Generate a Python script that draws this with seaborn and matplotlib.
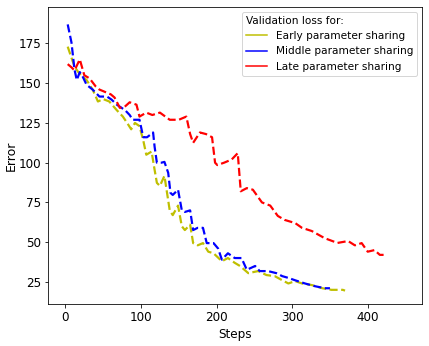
import pandas as pd
import matplotlib
matplotlib.use('Agg')
from matplotlib import pyplot as plt
from matplotlib.lines import Line2D
import seaborn as sns

# validation loss curves
early_steps = [3, 8, 12, 17, 21, 28, 36, 43, 50, 58, 68, 76, 83, 87, 92, 98, 103, 107, 114, 118,
               121, 125, 131, 138, 142, 149, 154, 158, 165, 169, 175, 182, 189, 196, 207, 215,
               224, 231, 242, 255, 266, 277, 287, 295, 304, 313, 326, 340, 352, 367, 370]
early_loss = [173, 166, 160.5, 157, 155, 152, 146, 138.5, 140, 138.5, 133, 129, 124, 121, 125, 123,
              114, 105, 107, 95.5, 87.3, 85.4, 91.7, 70, 67, 73, 60, 57.6, 61, 49.4, 48, 49.4, 44,
              43, 38, 40, 37, 35, 30.5, 31.8, 29.3, 28.6, 26, 24, 25.5, 24, 23, 21, 20, 20, 19.5]

middle_steps = [3, 8, 12, 15, 19, 23, 28, 36, 45, 55, 61, 68, 79, 85, 89, 98, 103, 108, 116, 118,
                121, 127, 131, 136, 139, 142, 149, 154, 158, 165, 169, 175, 182, 187, 196, 202,
                207, 215, 224, 233, 240, 251, 257, 268, 279, 287, 295, 304, 317, 330, 343, 350]
middle_loss = [187, 175.6, 158.6, 152, 157, 154, 149, 146, 141.6, 141.6, 139.7, 136.5, 133, 130,
               127, 127, 116, 116, 119, 110, 100, 100, 100.5, 93.6, 81, 79.7, 83, 70, 69, 70, 57.6,
               59, 59, 49.4, 49.4, 46, 39, 43, 40, 40, 32.6, 35, 31.8, 31.8, 30.5, 28.6, 27.5, 26,
               24, 22.3, 21, 21]

late_steps = [3, 8, 12, 19, 25, 32, 40, 45, 55, 60, 65, 72, 78, 85, 94, 98, 107, 115, 125, 138,
              150, 160, 165, 169, 178, 186, 194, 198, 201, 210, 220, 228, 232, 240, 248, 260, 271,
              281, 290, 304, 313, 326, 343, 360, 374, 383, 392, 400, 409, 416, 421]
late_loss = [162, 160, 158, 165, 155, 153, 148, 146, 144, 143, 141, 134.5, 135, 138, 136.5, 129,
             131.5, 130, 131.5, 127, 127, 129, 118, 112.5, 119, 118, 116, 100, 98.5, 100, 102, 106,
             82, 84, 83, 75, 73, 66.5, 64, 62, 59, 57, 52.5, 49.5, 50.7, 48, 49.4, 44, 45, 42, 42]

labels = ['Early parameter sharing', 'Middle parameter sharing', 'Late parameter sharing']
colors = ['y', 'b', 'r']

# saved at 72 dpi, so 1pt == 1px
fig, ax = plt.subplots(figsize=(429 / 72, 346 / 72), dpi=72)
fig.subplots_adjust(left=0.112, right=0.984, top=0.98, bottom=0.121)

series = [(early_steps, early_loss), (middle_steps, middle_loss), (late_steps, late_loss)]
for (steps, loss), label, color in zip(series, labels, colors):
    df = pd.DataFrame({'Steps': steps, 'Error': loss})
    sns.lineplot(x='Steps', y='Error', data=df, color=color, linestyle='--',
                 linewidth=2.2, estimator=None, ax=ax)

ax.set_xlim(-23, 472)
ax.set_ylim(11, 198)
ax.set_xticks([0, 100, 200, 300, 400])
ax.set_yticks([25, 50, 75, 100, 125, 150, 175])
ax.tick_params(labelsize=12)
ax.set_xlabel('Steps', fontsize=12)
ax.set_ylabel('Error', fontsize=12.5, labelpad=1)

handles = [Line2D([0], [0], color=c, lw=1.5) for c in colors]
ax.legend(handles, labels, title='Validation loss for:', loc='upper right',
          fontsize=10.5, title_fontsize=10.5, labelspacing=0.5,
          alignment='left', borderaxespad=0.45)

plt.savefig('out.png', dpi=72)
plt.close()
